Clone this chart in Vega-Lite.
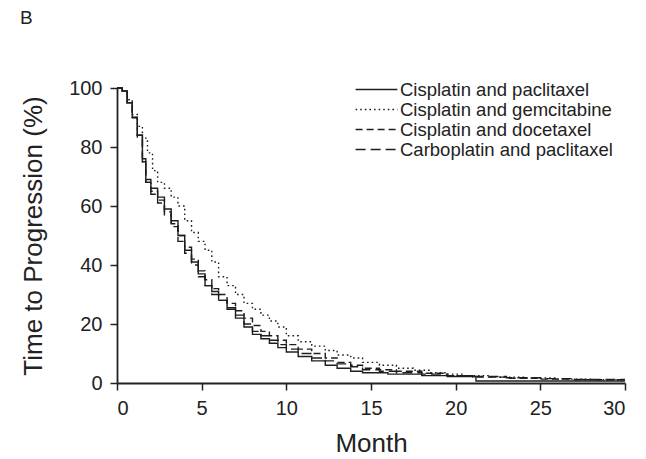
{
  "$schema": "https://vega.github.io/schema/vega-lite/v6.json",
  "autosize": {"type": "none"},
  "padding": {"left": 117, "top": 88, "right": 21, "bottom": 76},
  "width": 508,
  "height": 295,
  "background": "white",
  "config": {
    "view": {"stroke": null},
    "font": "Liberation Sans",
    "axis": {"grid": false, "domainColor": "#222", "domainWidth": 1.8, "tickColor": "#222", "tickWidth": 1.5, "tickSize": 7, "labelPadding": 8, "labelFontSize": 20, "labelColor": "#222", "titleFontSize": 26, "titleFontWeight": "normal", "titleColor": "#222", "labelFont": "Liberation Sans", "titleFont": "Liberation Sans"}
  },
  "title": {"text": "B", "anchor": "start", "frame": "group", "dx": -97, "offset": 35, "baseline": "alphabetic", "fontSize": 19, "fontWeight": "normal", "font": "Liberation Sans", "color": "#222"},
  "data": {"values": [
    {"r": "Cisplatin and gemcitabine", "m": 0, "p": 100}, {"r": "Cisplatin and gemcitabine", "m": 0.3, "p": 99}, {"r": "Cisplatin and gemcitabine", "m": 0.6, "p": 96}, {"r": "Cisplatin and gemcitabine", "m": 0.9, "p": 91}, {"r": "Cisplatin and gemcitabine", "m": 1.2, "p": 87}, {"r": "Cisplatin and gemcitabine", "m": 1.5, "p": 83}, {"r": "Cisplatin and gemcitabine", "m": 1.8, "p": 78}, {"r": "Cisplatin and gemcitabine", "m": 2.1, "p": 72}, {"r": "Cisplatin and gemcitabine", "m": 2.4, "p": 68}, {"r": "Cisplatin and gemcitabine", "m": 2.8, "p": 66}, {"r": "Cisplatin and gemcitabine", "m": 3.2, "p": 63}, {"r": "Cisplatin and gemcitabine", "m": 3.6, "p": 60}, {"r": "Cisplatin and gemcitabine", "m": 4.0, "p": 55}, {"r": "Cisplatin and gemcitabine", "m": 4.4, "p": 51}, {"r": "Cisplatin and gemcitabine", "m": 4.8, "p": 48}, {"r": "Cisplatin and gemcitabine", "m": 5.2, "p": 45}, {"r": "Cisplatin and gemcitabine", "m": 5.6, "p": 41}, {"r": "Cisplatin and gemcitabine", "m": 6.0, "p": 36}, {"r": "Cisplatin and gemcitabine", "m": 6.5, "p": 33}, {"r": "Cisplatin and gemcitabine", "m": 7.0, "p": 30}, {"r": "Cisplatin and gemcitabine", "m": 7.5, "p": 27}, {"r": "Cisplatin and gemcitabine", "m": 8.0, "p": 25}, {"r": "Cisplatin and gemcitabine", "m": 8.5, "p": 23}, {"r": "Cisplatin and gemcitabine", "m": 9.0, "p": 21}, {"r": "Cisplatin and gemcitabine", "m": 9.5, "p": 19}, {"r": "Cisplatin and gemcitabine", "m": 10.0, "p": 16}, {"r": "Cisplatin and gemcitabine", "m": 10.7, "p": 14}, {"r": "Cisplatin and gemcitabine", "m": 11.5, "p": 12.5}, {"r": "Cisplatin and gemcitabine", "m": 12.3, "p": 11}, {"r": "Cisplatin and gemcitabine", "m": 13.0, "p": 9.5}, {"r": "Cisplatin and gemcitabine", "m": 13.8, "p": 8.5}, {"r": "Cisplatin and gemcitabine", "m": 14.5, "p": 7}, {"r": "Cisplatin and gemcitabine", "m": 15.5, "p": 6}, {"r": "Cisplatin and gemcitabine", "m": 16.5, "p": 5}, {"r": "Cisplatin and gemcitabine", "m": 17.5, "p": 4.3}, {"r": "Cisplatin and gemcitabine", "m": 18.5, "p": 3.5}, {"r": "Cisplatin and gemcitabine", "m": 19.5, "p": 3}, {"r": "Cisplatin and gemcitabine", "m": 20.5, "p": 2.5}, {"r": "Cisplatin and gemcitabine", "m": 22, "p": 2}, {"r": "Cisplatin and gemcitabine", "m": 24, "p": 1.7}, {"r": "Cisplatin and gemcitabine", "m": 26, "p": 1.3}, {"r": "Cisplatin and gemcitabine", "m": 28, "p": 1.1}, {"r": "Cisplatin and gemcitabine", "m": 30, "p": 1},

    {"r": "Cisplatin and paclitaxel", "m": 0, "p": 100}, {"r": "Cisplatin and paclitaxel", "m": 0.3, "p": 99}, {"r": "Cisplatin and paclitaxel", "m": 0.6, "p": 95}, {"r": "Cisplatin and paclitaxel", "m": 0.9, "p": 90}, {"r": "Cisplatin and paclitaxel", "m": 1.2, "p": 84}, {"r": "Cisplatin and paclitaxel", "m": 1.5, "p": 76}, {"r": "Cisplatin and paclitaxel", "m": 1.7, "p": 69}, {"r": "Cisplatin and paclitaxel", "m": 2.0, "p": 66}, {"r": "Cisplatin and paclitaxel", "m": 2.4, "p": 63}, {"r": "Cisplatin and paclitaxel", "m": 2.8, "p": 59}, {"r": "Cisplatin and paclitaxel", "m": 3.2, "p": 55}, {"r": "Cisplatin and paclitaxel", "m": 3.6, "p": 50}, {"r": "Cisplatin and paclitaxel", "m": 4.0, "p": 45}, {"r": "Cisplatin and paclitaxel", "m": 4.4, "p": 41}, {"r": "Cisplatin and paclitaxel", "m": 4.8, "p": 37}, {"r": "Cisplatin and paclitaxel", "m": 5.2, "p": 33}, {"r": "Cisplatin and paclitaxel", "m": 5.6, "p": 31}, {"r": "Cisplatin and paclitaxel", "m": 6.0, "p": 28}, {"r": "Cisplatin and paclitaxel", "m": 6.5, "p": 25}, {"r": "Cisplatin and paclitaxel", "m": 7.0, "p": 22}, {"r": "Cisplatin and paclitaxel", "m": 7.5, "p": 19}, {"r": "Cisplatin and paclitaxel", "m": 8.0, "p": 16.5}, {"r": "Cisplatin and paclitaxel", "m": 8.5, "p": 15}, {"r": "Cisplatin and paclitaxel", "m": 9.0, "p": 13.5}, {"r": "Cisplatin and paclitaxel", "m": 9.5, "p": 12}, {"r": "Cisplatin and paclitaxel", "m": 10.0, "p": 10.5}, {"r": "Cisplatin and paclitaxel", "m": 10.7, "p": 9}, {"r": "Cisplatin and paclitaxel", "m": 11.5, "p": 7.5}, {"r": "Cisplatin and paclitaxel", "m": 12.3, "p": 6}, {"r": "Cisplatin and paclitaxel", "m": 13.0, "p": 5}, {"r": "Cisplatin and paclitaxel", "m": 13.8, "p": 4}, {"r": "Cisplatin and paclitaxel", "m": 14.5, "p": 3.5}, {"r": "Cisplatin and paclitaxel", "m": 16, "p": 3}, {"r": "Cisplatin and paclitaxel", "m": 18, "p": 2.5}, {"r": "Cisplatin and paclitaxel", "m": 19.5, "p": 2.2}, {"r": "Cisplatin and paclitaxel", "m": 21.2, "p": 0.7}, {"r": "Cisplatin and paclitaxel", "m": 30, "p": 0.7},

    {"r": "Cisplatin and docetaxel", "m": 0, "p": 100}, {"r": "Cisplatin and docetaxel", "m": 0.3, "p": 99}, {"r": "Cisplatin and docetaxel", "m": 0.6, "p": 95}, {"r": "Cisplatin and docetaxel", "m": 0.9, "p": 90}, {"r": "Cisplatin and docetaxel", "m": 1.2, "p": 84}, {"r": "Cisplatin and docetaxel", "m": 1.5, "p": 75}, {"r": "Cisplatin and docetaxel", "m": 1.7, "p": 68}, {"r": "Cisplatin and docetaxel", "m": 2.0, "p": 65}, {"r": "Cisplatin and docetaxel", "m": 2.4, "p": 62}, {"r": "Cisplatin and docetaxel", "m": 2.8, "p": 58}, {"r": "Cisplatin and docetaxel", "m": 3.2, "p": 54}, {"r": "Cisplatin and docetaxel", "m": 3.6, "p": 50}, {"r": "Cisplatin and docetaxel", "m": 4.0, "p": 46}, {"r": "Cisplatin and docetaxel", "m": 4.4, "p": 42}, {"r": "Cisplatin and docetaxel", "m": 4.8, "p": 38}, {"r": "Cisplatin and docetaxel", "m": 5.2, "p": 35}, {"r": "Cisplatin and docetaxel", "m": 5.6, "p": 32}, {"r": "Cisplatin and docetaxel", "m": 6.0, "p": 30}, {"r": "Cisplatin and docetaxel", "m": 6.5, "p": 27}, {"r": "Cisplatin and docetaxel", "m": 7.0, "p": 24.5}, {"r": "Cisplatin and docetaxel", "m": 7.5, "p": 22}, {"r": "Cisplatin and docetaxel", "m": 8.0, "p": 19.5}, {"r": "Cisplatin and docetaxel", "m": 8.5, "p": 17.5}, {"r": "Cisplatin and docetaxel", "m": 9.0, "p": 16}, {"r": "Cisplatin and docetaxel", "m": 9.5, "p": 14.5}, {"r": "Cisplatin and docetaxel", "m": 10.0, "p": 13}, {"r": "Cisplatin and docetaxel", "m": 10.7, "p": 11.5}, {"r": "Cisplatin and docetaxel", "m": 11.5, "p": 10}, {"r": "Cisplatin and docetaxel", "m": 12.3, "p": 8.5}, {"r": "Cisplatin and docetaxel", "m": 13.0, "p": 7}, {"r": "Cisplatin and docetaxel", "m": 13.8, "p": 6}, {"r": "Cisplatin and docetaxel", "m": 14.5, "p": 5}, {"r": "Cisplatin and docetaxel", "m": 15.5, "p": 4.5}, {"r": "Cisplatin and docetaxel", "m": 16.5, "p": 4}, {"r": "Cisplatin and docetaxel", "m": 18, "p": 3.3}, {"r": "Cisplatin and docetaxel", "m": 19.5, "p": 2.5}, {"r": "Cisplatin and docetaxel", "m": 21, "p": 2}, {"r": "Cisplatin and docetaxel", "m": 23, "p": 1.6}, {"r": "Cisplatin and docetaxel", "m": 25, "p": 1.3}, {"r": "Cisplatin and docetaxel", "m": 27, "p": 1.1}, {"r": "Cisplatin and docetaxel", "m": 30, "p": 0.9},

    {"r": "Carboplatin and paclitaxel", "m": 0, "p": 100}, {"r": "Carboplatin and paclitaxel", "m": 0.3, "p": 99}, {"r": "Carboplatin and paclitaxel", "m": 0.6, "p": 95}, {"r": "Carboplatin and paclitaxel", "m": 0.9, "p": 90}, {"r": "Carboplatin and paclitaxel", "m": 1.2, "p": 83}, {"r": "Carboplatin and paclitaxel", "m": 1.5, "p": 74}, {"r": "Carboplatin and paclitaxel", "m": 1.7, "p": 68}, {"r": "Carboplatin and paclitaxel", "m": 2.0, "p": 64}, {"r": "Carboplatin and paclitaxel", "m": 2.4, "p": 61}, {"r": "Carboplatin and paclitaxel", "m": 2.8, "p": 57}, {"r": "Carboplatin and paclitaxel", "m": 3.2, "p": 53}, {"r": "Carboplatin and paclitaxel", "m": 3.6, "p": 48}, {"r": "Carboplatin and paclitaxel", "m": 4.0, "p": 44}, {"r": "Carboplatin and paclitaxel", "m": 4.4, "p": 40}, {"r": "Carboplatin and paclitaxel", "m": 4.8, "p": 36}, {"r": "Carboplatin and paclitaxel", "m": 5.2, "p": 33}, {"r": "Carboplatin and paclitaxel", "m": 5.6, "p": 30}, {"r": "Carboplatin and paclitaxel", "m": 6.0, "p": 28}, {"r": "Carboplatin and paclitaxel", "m": 6.5, "p": 25.5}, {"r": "Carboplatin and paclitaxel", "m": 7.0, "p": 23}, {"r": "Carboplatin and paclitaxel", "m": 7.5, "p": 20}, {"r": "Carboplatin and paclitaxel", "m": 8.0, "p": 17.5}, {"r": "Carboplatin and paclitaxel", "m": 8.5, "p": 16}, {"r": "Carboplatin and paclitaxel", "m": 9.0, "p": 14.5}, {"r": "Carboplatin and paclitaxel", "m": 9.5, "p": 13}, {"r": "Carboplatin and paclitaxel", "m": 10.0, "p": 11.5}, {"r": "Carboplatin and paclitaxel", "m": 10.7, "p": 10}, {"r": "Carboplatin and paclitaxel", "m": 11.5, "p": 8.5}, {"r": "Carboplatin and paclitaxel", "m": 12.3, "p": 7.5}, {"r": "Carboplatin and paclitaxel", "m": 13.0, "p": 6.5}, {"r": "Carboplatin and paclitaxel", "m": 13.8, "p": 5.5}, {"r": "Carboplatin and paclitaxel", "m": 14.5, "p": 4.5}, {"r": "Carboplatin and paclitaxel", "m": 15.5, "p": 4}, {"r": "Carboplatin and paclitaxel", "m": 16.5, "p": 3.5}, {"r": "Carboplatin and paclitaxel", "m": 18, "p": 3}, {"r": "Carboplatin and paclitaxel", "m": 19.5, "p": 2.5}, {"r": "Carboplatin and paclitaxel", "m": 21, "p": 2.2}, {"r": "Carboplatin and paclitaxel", "m": 23, "p": 1.8}, {"r": "Carboplatin and paclitaxel", "m": 25, "p": 1.5}, {"r": "Carboplatin and paclitaxel", "m": 27, "p": 1.2}, {"r": "Carboplatin and paclitaxel", "m": 30, "p": 1.2}
  ]},
  "mark": {"type": "line", "interpolate": "step-after", "color": "#1e1e1e", "strokeWidth": 1.4},
  "encoding": {
    "x": {"field": "m", "type": "quantitative", "scale": {"domain": [0, 30], "nice": false}, "axis": {"values": [0, 5, 10, 15, 20, 25, 30], "title": "Month", "titlePadding": 12}},
    "y": {"field": "p", "type": "quantitative", "scale": {"domain": [0, 100], "nice": false}, "axis": {"values": [0, 20, 40, 60, 80, 100], "title": "Time to Progression (%)", "titlePadding": 22}},
    "strokeDash": {"field": "r", "type": "nominal",
      "scale": {"domain": ["Cisplatin and paclitaxel", "Cisplatin and gemcitabine", "Cisplatin and docetaxel", "Carboplatin and paclitaxel"], "range": [[1, 0], [1.6, 3], [7, 4], [10, 5]]},
      "legend": {"title": null, "orient": "none", "legendX": 249, "legendY": -9, "padding": 0, "symbolType": "M-2.2,0H2.2", "symbolSize": 361, "symbolStrokeColor": "#1e1e1e", "symbolStrokeWidth": 1.5, "symbolFillColor": "transparent", "labelOffset": 13, "labelFontSize": 18.5, "labelFont": "Liberation Sans", "labelColor": "#222", "rowPadding": -1.5, "labelLimit": 400}
    },
    "detail": {"field": "r"}
  }
}
